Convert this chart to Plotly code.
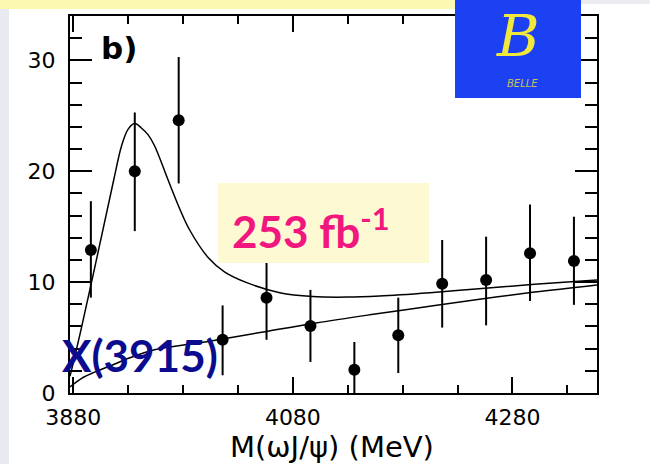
import plotly.graph_objects as go

# ---------------- data ----------------
mass = [3896, 3936, 3976, 4016, 4056, 4096, 4136, 4176, 4216, 4256, 4296, 4336]
events = [12.9, 20.0, 24.6, 4.8, 8.6, 6.05, 2.1, 5.2, 9.85, 10.2, 12.6, 11.9]
err_up = [4.4, 5.3, 5.7, 3.1, 3.2, 3.25, 2.5, 3.4, 3.95, 3.9, 4.4, 4.0]
err_dn = [4.3, 5.4, 5.7, 3.2, 3.8, 3.25, 2.1, 3.4, 3.95, 4.1, 4.3, 3.95]

fit_x = [3877, 3887, 3903, 3917, 3924, 3930, 3936, 3942, 3948, 3954, 3966, 3977, 3986,
         4003, 4018, 4038, 4068, 4098, 4129, 4159, 4205, 4255, 4300, 4357]
fit_y = [1.5, 5.7, 12.9, 19.3, 22.3, 23.8, 24.3, 23.9, 23.3, 22.3, 19.3, 16.6, 14.7,
         12.2, 10.9, 9.95, 9.05, 8.7, 8.65, 8.75, 9.05, 9.45, 9.8, 10.2]

bkg_x = [3877, 3888, 3900, 3915, 3931, 3954, 4000, 4050, 4100, 4150, 4200, 4250, 4300, 4357]
bkg_y = [0.55, 1.35, 1.9, 2.5, 3.15, 3.9, 4.6, 5.45, 6.3, 7.05, 7.75, 8.45, 9.1, 9.75]

x_range = [3877, 4357]
y_range = [0, 34]
x_title = "M(\u03c9J/\u03c8) (MeV)"

# ---------------- layout helpers (pixel -> paper) ----------------
L, R, T, B = 70, 597, 16, 393
W, H = R - L, B - T


def px(x):
    return (x - L) / W


def py(y):
    return (B - y) / H


fig = go.Figure()

fig.add_trace(go.Scatter(x=bkg_x, y=bkg_y, mode="lines",
                         line=dict(color="black", width=1.5, shape="spline", smoothing=1.0),
                         hoverinfo="skip", showlegend=False))
fig.add_trace(go.Scatter(x=fit_x, y=fit_y, mode="lines",
                         line=dict(color="black", width=1.5, shape="spline", smoothing=1.0),
                         hoverinfo="skip", showlegend=False))
fig.add_trace(go.Scatter(x=mass, y=events, mode="markers",
                         marker=dict(color="black", size=12, symbol="circle"),
                         error_y=dict(type="data", symmetric=False, array=err_up,
                                      arrayminus=err_dn, color="black", thickness=2, width=0),
                         showlegend=False))

axis_font = dict(family="DejaVu Sans", size=22, color="black")

fig.update_xaxes(range=x_range, showline=True, linecolor="black", linewidth=2, mirror="ticks",
                 ticks="inside", ticklen=16, tickwidth=2, tickcolor="black",
                 tick0=3880, dtick=200, showgrid=False, zeroline=False, automargin=False,
                 minor=dict(ticks="inside", ticklen=8, tickwidth=2, tickcolor="black",
                            dtick=50, tick0=3880, showgrid=False),
                 tickfont=axis_font, ticklabelstandoff=4)
fig.update_yaxes(range=y_range, showline=True, linecolor="black", linewidth=2, mirror="ticks",
                 ticks="inside", ticklen=22, tickwidth=2, tickcolor="black",
                 dtick=10, showgrid=False, zeroline=False, automargin=False,
                 minor=dict(ticks="inside", ticklen=12, tickwidth=2, tickcolor="black",
                            dtick=2, showgrid=False),
                 tickfont=axis_font, ticklabelstandoff=8)

shapes = [
    dict(type="rect", xref="paper", yref="paper", x0=px(0), x1=px(9), y0=py(464), y1=py(0),
         fillcolor="#E9E9F1", line=dict(width=0), layer="below"),
    dict(type="rect", xref="paper", yref="paper", x0=px(0), x1=px(455), y0=py(9), y1=py(0),
         fillcolor="#FBF8B2", line=dict(width=0), layer="below"),
    dict(type="rect", xref="paper", yref="paper", x0=px(581), x1=px(650), y0=py(4), y1=py(0),
         fillcolor="#ECECF0", line=dict(width=0), layer="below"),
    dict(type="rect", xref="paper", yref="paper", x0=px(218), x1=px(429), y0=py(263), y1=py(183),
         fillcolor="#FDF9D3", line=dict(width=0), layer="above"),
    dict(type="rect", xref="paper", yref="paper", x0=px(455), x1=px(581), y0=py(98), y1=py(0),
         fillcolor="#1B41F2", line=dict(width=0), layer="above"),
]

annotations = [
    dict(text=x_title, x=px(332), y=py(447), xref="paper", yref="paper",
         showarrow=False, xanchor="center", yanchor="middle",
         font=dict(family="DejaVu Sans", size=29, color="black")),
    dict(text="<b>b)</b>", x=px(119), y=py(48), xref="paper", yref="paper",
         showarrow=False, xanchor="center", yanchor="middle",
         font=dict(family="DejaVu Sans", size=31, color="black")),
    dict(text="<b>253 fb<sup>-1</sup></b>", x=px(311), y=py(228), xref="paper", yref="paper",
         showarrow=False, xanchor="center", yanchor="middle",
         font=dict(family="Lato", size=44, color="#F2167F")),
    dict(text="<b>X(3915)</b>", x=px(140), y=py(355), xref="paper", yref="paper",
         showarrow=False, xanchor="center", yanchor="middle",
         font=dict(family="Lato", size=44, color="#0B0B8F")),
    dict(text="<i>B</i>", x=px(518), y=py(36), xref="paper", yref="paper",
         showarrow=False, xanchor="center", yanchor="middle",
         font=dict(family="DejaVu Serif", size=58, color="#F0E83A")),
    dict(text="<i>BELLE</i>", x=px(522), y=py(83), xref="paper", yref="paper",
         showarrow=False, xanchor="center", yanchor="middle",
         font=dict(family="DejaVu Sans", size=10, color="#C9C15A")),
]

fig.update_layout(width=650, height=464, margin=dict(l=L, r=650 - R, t=T, b=464 - B),
                  paper_bgcolor="white", plot_bgcolor="white",
                  shapes=shapes, annotations=annotations, showlegend=False)

fig.write_html("out.html")
